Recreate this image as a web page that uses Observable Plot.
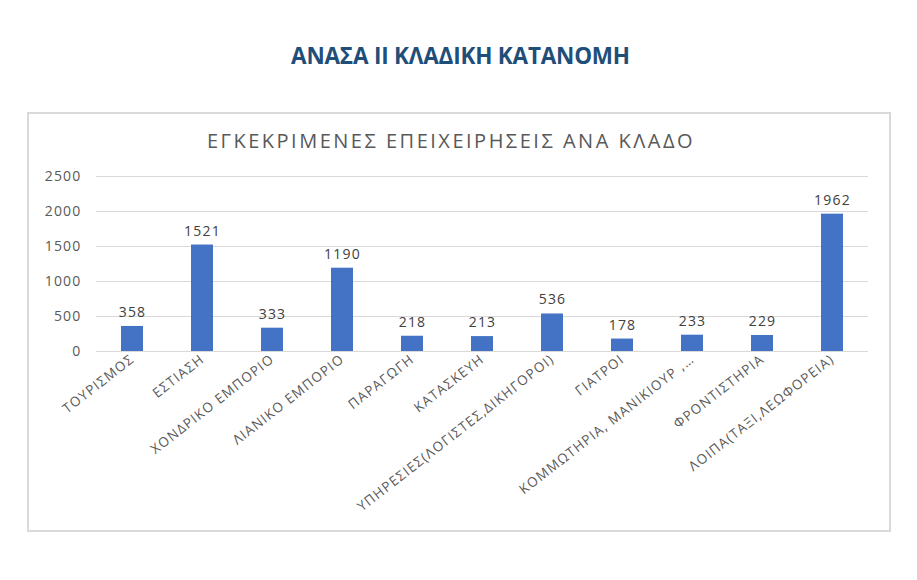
<!DOCTYPE html>
<html>
<head>
<meta charset="utf-8">
<script src="https://cdn.jsdelivr.net/npm/d3@7"></script>
<script src="https://cdn.jsdelivr.net/npm/@observablehq/plot@0.6"></script>
<style>
  html, body { margin: 0; padding: 0; background: #fff; width: 917px; height: 580px; overflow: hidden; font-family: "Open Sans", sans-serif; }
  #title { position: absolute; left: 2px; width: 917px; top: 40px; text-align: center; font-family: "Open Sans", sans-serif; font-weight: 700; font-size: 22.5px; color: #1f4e79; letter-spacing: -0.2px; }
  #box { position: absolute; left: 27px; top: 112px; width: 860px; height: 416px; border: 2px solid #d9d9d9; }
  #subtitle { position: absolute; left: 20px; width: 862px; top: 127px; text-align: center; font-family: "Open Sans", sans-serif; font-size: 20px; color: #595959; letter-spacing: 2.5px; }
  #chart { position: absolute; left: 27px; top: 160px; }
  #chart svg text { letter-spacing: 1.2px; }
</style>
</head>
<body>
<div id="title">ΑΝΑΣΑ ΙΙ ΚΛΑΔΙΚΗ ΚΑΤΑΝΟΜΗ</div>
<div id="box"></div>
<div id="subtitle">ΕΓΚΕΚΡΙΜΕΝΕΣ ΕΠΕΙΧΕΙΡΗΣΕΙΣ ΑΝΑ ΚΛΑΔΟ</div>
<div id="chart"></div>
<script>
const categories = [
  "ΤΟΥΡΙΣΜΟΣ",
  "ΕΣΤΙΑΣΗ",
  "ΧΟΝΔΡΙΚΟ ΕΜΠΟΡΙΟ",
  "ΛΙΑΝΙΚΟ ΕΜΠΟΡΙΟ",
  "ΠΑΡΑΓΩΓΗ",
  "ΚΑΤΑΣΚΕΥΗ",
  "ΥΠΗΡΕΣΙΕΣ(ΛΟΓΙΣΤΕΣ,ΔΙΚΗΓΟΡΟΙ)",
  "ΓΙΑΤΡΟΙ",
  "ΚΟΜΜΩΤΗΡΙΑ, ΜΑΝΙΚΙΟΥΡ ,…",
  "ΦΡΟΝΤΙΣΤΗΡΙΑ",
  "ΛΟΙΠΑ(ΤΑΞΙ,ΛΕΩΦΟΡΕΙΑ)"
];
const values = [358, 1521, 333, 1190, 218, 213, 536, 178, 233, 229, 1962];
const yTicks = [0, 500, 1000, 1500, 2000, 2500];

const data = categories.map((c, i) => ({cat: c, value: values[i]}));

const chart = Plot.plot({
  width: 862,
  height: 365,
  marginLeft: 69,
  marginRight: 21,
  marginTop: 16,
  marginBottom: 174,
  style: { fontFamily: "Open Sans, sans-serif", fontSize: "13px", color: "#595959", background: "transparent" },
  x: { domain: categories, paddingInner: 0.69, paddingOuter: 0.345, label: null },
  y: { domain: [0, 2500], label: null },
  marks: [
    Plot.gridY(yTicks, { stroke: "#d9d9d9", strokeOpacity: 1, strokeWidth: 1 }),
    Plot.barY(data, { x: "cat", y: "value", fill: "#4472c4" }),
    Plot.ruleY([0], { stroke: "#d9d9d9", strokeWidth: 1 }),
    Plot.text(data, { x: "cat", y: "value", text: d => String(d.value), dy: -14, fill: "#404040", fontSize: 14 }),
    Plot.axisY({ ticks: yTicks, tickSize: 0, tickPadding: 15, fontSize: 14, fill: "#595959", tickFormat: d => String(d) }),
    Plot.axisX({ tickSize: 0, tickPadding: 6, tickRotate: -38, fontSize: 13.5, fill: "#595959", textOverflow: null, lineWidth: 100 })
  ]
});
document.getElementById("chart").appendChild(chart);
</script>
</body>
</html>
